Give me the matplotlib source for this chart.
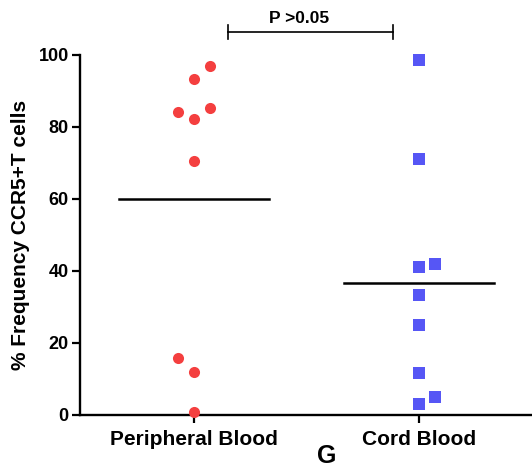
import matplotlib.pyplot as plt

plt.rcParams['font.family'] = ['Liberation Sans', 'DejaVu Sans']
plt.rcParams['font.weight'] = 'bold'

groups = ['Peripheral Blood', 'Cord Blood']
pb_values = [97.0, 93.2, 84.3, 85.2, 82.2, 70.5, 15.7, 12.0, 0.9]
pb_offsets = [0.07, 0.0, -0.07, 0.07, 0.0, 0.0, -0.07, 0.0, 0.0]
cb_values = [98.7, 71.1, 41.0, 42.0, 33.3, 25.0, 11.6, 3.0, 5.0]
cb_offsets = [0.0, 0.0, 0.0, 0.07, 0.0, 0.0, 0.0, 0.0, 0.07]
y_ticks = [0, 20, 40, 60, 80, 100]
p_text = 'P >0.05'

fig = plt.figure(figsize=(5.32, 4.72), dpi=100)
ax = fig.add_axes([0.150, 0.1208, 0.850, 0.7627])

ax.plot([0 + o for o in pb_offsets], pb_values, 'o', color='#f43f3f',
        markersize=8, markeredgewidth=0, clip_on=False, zorder=3)
ax.plot([1 + o for o in cb_offsets], cb_values, 's', color='#5656f5',
        markersize=8, markeredgewidth=0, clip_on=False, zorder=3)

# mean lines
for i, vals in enumerate([pb_values, cb_values]):
    m = sum(vals) / len(vals)
    ax.plot([i - 0.333, i + 0.333], [m, m], color='black', lw=1.8)

ax.set_xlim(-0.507, 1.502)
ax.set_ylim(0, 100)
ax.set_xticks([0, 1])
ax.set_xticklabels(groups, fontsize=15, fontweight='bold')
ax.set_yticks(y_ticks)
ax.set_yticklabels([str(t) for t in y_ticks], fontsize=13, fontweight='bold')
ax.tick_params(direction='out', length=6, width=1.6, pad=2)
ax.tick_params(axis='x', pad=5)
for s in ['top', 'right']:
    ax.spines[s].set_visible(False)
for s in ['left', 'bottom']:
    ax.spines[s].set_linewidth(1.7)

ax.set_ylabel('% Frequency CCR5+T cells', fontsize=15, fontweight='bold', labelpad=6)

# significance bracket
x1, x2, yb = 0.151, 0.884, 106.4
ax.plot([x1, x2], [yb, yb], color='black', lw=1.2, clip_on=False)
ax.plot([x1, x1], [yb - 1.9, yb + 1.9], color='black', lw=1.2, clip_on=False)
ax.plot([x2, x2], [yb - 1.9, yb + 1.9], color='black', lw=1.2, clip_on=False)
ax.text((x1 + x2) / 2 - 0.05, 110.0, p_text, ha='center', va='center',
        fontsize=12.5, fontweight='bold', clip_on=False)

fig.text(327 / 532, 1 - 456 / 472, 'G', ha='center', va='center',
         fontsize=18, fontweight='bold')

fig.savefig('out.png', dpi=100)
